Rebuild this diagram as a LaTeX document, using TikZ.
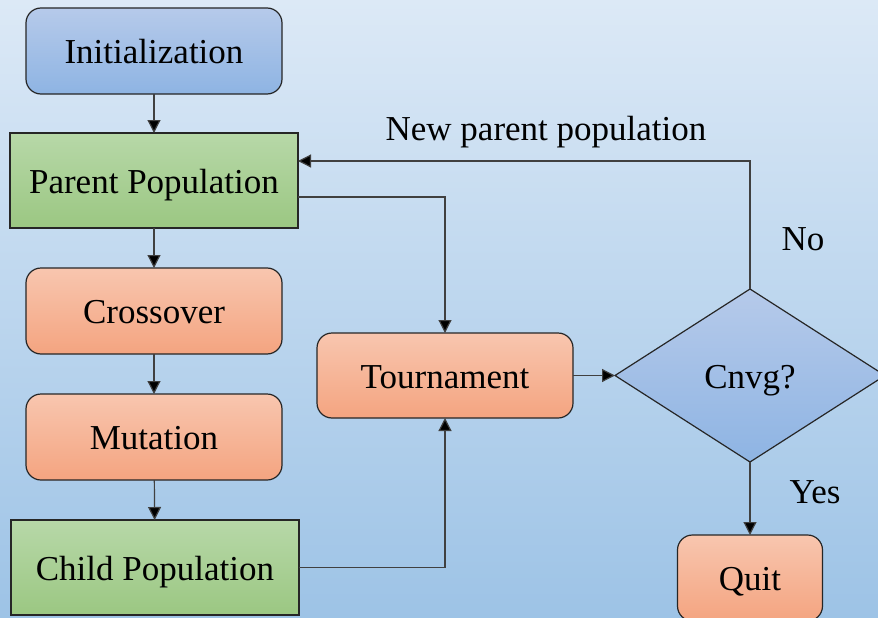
\documentclass[tikz,border=0pt]{standalone}
\usepackage{fontspec}
\setmainfont{Liberation Serif}
\usetikzlibrary{shapes.geometric,arrows.meta}
\definecolor{bgtop}{RGB}{220,233,246}
\definecolor{bgbot}{RGB}{157,195,230}
\definecolor{bluetop}{RGB}{182,202,234}
\definecolor{bluebot}{RGB}{142,180,227}
\definecolor{greentop}{RGB}{183,216,168}
\definecolor{greenbot}{RGB}{155,199,130}
\definecolor{orangetop}{RGB}{248,198,175}
\definecolor{orangebot}{RGB}{244,164,128}
\definecolor{edge}{RGB}{38,38,38}
\definecolor{conn}{RGB}{64,64,64}
\tikzset{
  every node/.style={font=\fontsize{35}{42}\selectfont, text height=25pt, text depth=0pt},
  boxbase/.style={draw=edge, line width=1.2pt, inner sep=0pt, outer sep=0pt, align=center},
  bluebox/.style={boxbase, rounded corners=15pt, top color=bluetop, bottom color=bluebot, minimum width=256pt, minimum height=86pt},
  greenbox/.style={boxbase, top color=greentop, bottom color=greenbot, minimum width=288pt, minimum height=95pt},
  orangebox/.style={boxbase, rounded corners=15pt, top color=orangetop, bottom color=orangebot, minimum width=256pt, minimum height=86pt},
  decision/.style={boxbase, diamond, top color=bluetop, bottom color=bluebot, minimum width=270pt, minimum height=173pt},
  arr/.style={draw=conn, line width=1.2pt, -{Triangle[length=13pt,width=13pt,fill=black]}},
  lbl/.style={inner sep=0pt}
}
\begin{document}
\begin{tikzpicture}[x=1pt,y=-1pt]
\shade[top color=bgtop, bottom color=bgbot] (0,0) rectangle (878,618);
\useasboundingbox (0,0) rectangle (878,618);
\clip (0,0) rectangle (878,618);

\node[bluebox] (init) at (154,51) {Initialization};
\node[greenbox] (parent) at (154,180.5) {Parent Population};
\node[orangebox] (cross) at (154,311) {Crossover};
\node[orangebox] (mut) at (154,437) {Mutation};
\node[greenbox] (child) at (155,567.5) {Child Population};
\node[orangebox, minimum height=85pt] (tourn) at (445,375.5) {Tournament};
\node[decision] (cnvg) at (750,375.5) {Cnvg?};
\node[orangebox, minimum width=145pt] (quit) at (750,578) {Quit};

\node[lbl] (lnew) at (546,128) {New parent population};
\node[lbl] (lno) at (803,238) {No};
\node[lbl] (lyes) at (815,491) {Yes};

\draw[arr] (init) -- (parent);
\draw[arr] (parent) -- (cross);
\draw[arr] (cross) -- (mut);
\draw[arr] (mut) -- (child);
\draw[arr] ([yshift=-16.5pt]parent.east) -| (tourn.north);
\draw[arr] (child.east) -| (tourn.south);
\draw[arr] (tourn) -- (cnvg);
\draw[arr] (cnvg.north) |- ([yshift=19.5pt]parent.east);
\draw[arr] (cnvg) -- (quit);
\end{tikzpicture}
\end{document}
